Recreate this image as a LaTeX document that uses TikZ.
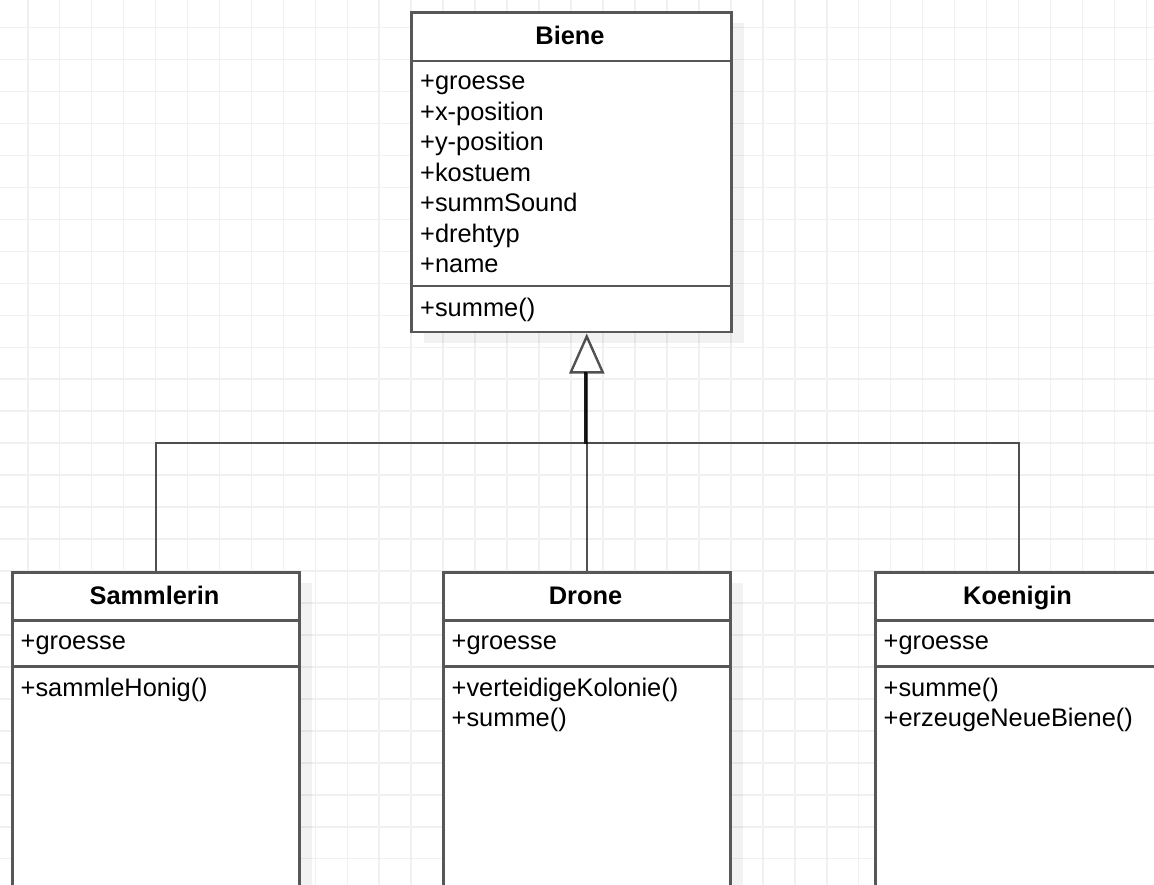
\documentclass[tikz,border=0pt]{standalone}
\usepackage{fontspec}
\setmainfont{Liberation Sans}
\usetikzlibrary{arrows.meta}
\definecolor{gridc}{HTML}{F0F0F0}
\definecolor{boxc}{HTML}{575757}
\begin{document}
\begin{tikzpicture}[x=1pt,y=-1pt,
  classbox/.style={draw=boxc, line width=2.5pt, fill=white, inner sep=0pt, anchor=north west},
  shadowbox/.style={fill=black, fill opacity=0.05},
  sepline/.style={draw=boxc, line width=2.5pt},
  titletext/.style={font=\fontsize{25.4}{30.5}\selectfont\bfseries, anchor=base, inner sep=0pt},
  member/.style={font=\fontsize{25.4}{30.5}\selectfont, anchor=base west, inner sep=0pt},
  edge/.style={draw=black, draw opacity=0.68, line width=2.4pt},
  gridline/.style={draw=gridc, line width=1.6pt}]
\useasboundingbox (0,0) rectangle (1154,885);
\clip (0,0) rectangle (1154,885);
\fill[white] (0,0) rectangle (1154,885);
% grid
\foreach \k in {0,...,35} { \draw[gridline] ({27.7+31.96*\k},0) -- ({27.7+31.96*\k},885); }
\foreach \k in {0,...,27} { \draw[gridline] (0,{27.7+31.96*\k}) -- (1154,{27.7+31.96*\k}); }
% shadows
\fill[shadowbox] (424,23.5) rectangle (744,343);
\fill[shadowbox] (25,583) rectangle (312,900);
\fill[shadowbox] (456,583) rectangle (743,900);
\fill[shadowbox] (888,583) rectangle (1175,900);
% class boxes
\node[classbox, minimum width=320pt, minimum height=319.5pt] (biene) at (410,11.5) {};
\node[classbox, minimum width=287pt, minimum height=340pt] (sammlerin) at (11,571) {};
\node[classbox, minimum width=287pt, minimum height=340pt] (drone) at (442,571) {};
\node[classbox, minimum width=287pt, minimum height=340pt] (koenigin) at (874,571) {};
% separators
\draw[sepline] (410,61) -- (730,61);
\draw[sepline] (410,286) -- (730,286);
\foreach \x in {11,442,874} {
  \draw[sepline] (\x,620.5) -- ({\x+287},620.5);
  \draw[sepline] (\x,666.7) -- ({\x+287},666.7);
}
% Biene texts
\node[titletext] (tb) at (570,45) {Biene};
\node[member] (b1) at (420,90) {+groesse};
\node[member] (b2) at (420,120.5) {+x-position};
\node[member] (b3) at (420,151) {+y-position};
\node[member] (b4) at (420,181.5) {+kostuem};
\node[member] (b5) at (420,212) {+summSound};
\node[member] (b6) at (420,242.5) {+drehtyp};
\node[member] (b7) at (420,273) {+name};
\node[member] (b8) at (420,316.5) {+summe()};
% Sammlerin texts
\node[titletext] (ts) at (154.5,604.5) {Sammlerin};
\node[member] (s1) at (20.5,649.5) {+groesse};
\node[member] (s2) at (20.5,696) {+sammleHonig()};
% Drone texts
\node[titletext] (td) at (585.5,604.5) {Drone};
\node[member] (d1) at (451.5,649.5) {+groesse};
\node[member] (d2) at (451.5,696) {+verteidigeKolonie()};
\node[member] (d3) at (451.5,726.5) {+summe()};
% Koenigin texts
\node[titletext] (tk) at (1017.5,604.5) {Koenigin};
\node[member] (k1) at (883.5,649.5) {+groesse};
\node[member] (k2) at (883.5,696) {+summe()};
\node[member] (k3) at (883.5,726.5) {+erzeugeNeueBiene()};
% connectors
\coordinate (jn) at (585.5,443);
\coordinate (abase) at (585.5,371.7);
\draw[edge] (sammlerin.north) |- (jn) -- (abase);
\draw[edge] (koenigin.north) |- (jn) -- (abase);
\draw[edge, -{Triangle[open, length=40pt, width=35pt]}] (drone.north) -- (drone.north |- biene.south);
\end{tikzpicture}
\end{document}
